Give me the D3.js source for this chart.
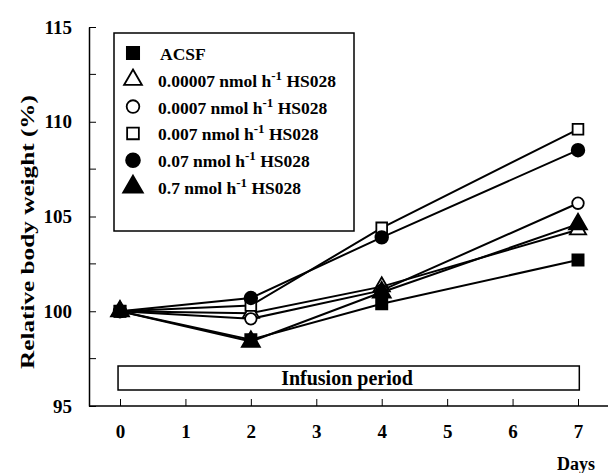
<!DOCTYPE html>
<html>
<head>
<meta charset="utf-8">
<script src="https://cdn.jsdelivr.net/npm/d3@7"></script>
<style>
  body { margin: 0; background: #fff; }
</style>
</head>
<body>
<div id="chart"></div>
<script>
// data
var days = [0, 2, 4, 7];
var acsf      = [100, 98.5, 100.4, 102.7];
var dose00007 = [100, 99.9, 101.3, 104.3];
var dose0007  = [100, 99.6, 101.1, 105.7];
var dose007   = [100, 100.3, 104.4, 109.6];
var dose07    = [100, 100.7, 103.9, 108.5];
var dose7     = [100, 98.4, 101.0, 104.6];

var seriesNames = ["ACSF", "0.00007", "0.0007", "0.007", "0.07", "0.7"];
var xTicks = [0, 1, 2, 3, 4, 5, 6, 7];
var yTicks = [95, 100, 105, 110, 115];
var yMinor = [97.5, 102.5, 107.5, 112.5];

var W = 610, H = 473;
var FONT = "Liberation Serif";

var svg = d3.select("#chart").append("svg")
	.attr("width", W).attr("height", H);

var x = d3.scaleLinear().domain([0, 7]).range([120, 578]);
var y = d3.scaleLinear().domain([95, 115]).range([406, 27]);
var axisX0 = 89, axisX1 = 608;

var shapes = [
	{sym: d3.symbolSquare, size: 125, fill: "#000"},
	{sym: d3.symbolTriangle, size: 115, fill: "#fff"},
	{sym: d3.symbolCircle, size: 105, fill: "#fff"},
	{sym: d3.symbolSquare, size: 115, fill: "#fff"},
	{sym: d3.symbolCircle, size: 125, fill: "#000"},
	{sym: d3.symbolTriangle, size: 140, fill: "#000"}
];
var allSeries = [acsf, dose00007, dose0007, dose007, dose07, dose7];

var series = allSeries.map(function(vals, i){
	return {
		name: seriesNames[i],
		shape: shapes[i],
		points: vals.map(function(v, j){ return {d: days[j], v: v}; })
	};
});

function txt(sel, size){
	return sel.attr("font-family", null)
		.style("font-family", FONT).style("font-weight", "bold")
		.style("font-size", size + "px").style("fill", "#000");
}

// infusion bar
svg.append("rect")
	.attr("x", x(-0.03)).attr("y", 366)
	.attr("width", x(7.02) - x(-0.03)).attr("height", 24)
	.style("fill", "#fff").style("stroke", "#000").style("stroke-width", 1.5);
txt(svg.append("text")
	.attr("x", 347).attr("y", 385)
	.attr("text-anchor", "middle"), 20)
	.text("Infusion period");

// axes
var yAxis = d3.axisLeft(y).tickValues(yTicks).tickSizeInner(-7).tickSizeOuter(0).tickPadding(17);
var gy = svg.append("g").attr("transform", "translate(" + axisX0 + ",0)").call(yAxis);
gy.attr("font-family", null);
txt(gy.selectAll("text"), 19);
gy.selectAll(".domain").style("stroke-width", 1.5);

svg.append("g").selectAll("line").data(yMinor).enter().append("line")
	.attr("x1", axisX0).attr("x2", axisX0 + 7)
	.attr("y1", function(d){ return y(d); }).attr("y2", function(d){ return y(d); })
	.style("stroke", "#000");

var xAxis = d3.axisBottom(x).tickValues(xTicks).tickSizeInner(-7).tickSizeOuter(0).tickPadding(19).tickFormat(d3.format("d"));
var gx = svg.append("g").attr("transform", "translate(0," + y(95) + ")").call(xAxis);
gx.attr("font-family", null);
gx.select(".domain").remove();
txt(gx.selectAll("text"), 19);
svg.append("line")
	.attr("x1", axisX0).attr("x2", axisX1)
	.attr("y1", y(95)).attr("y2", y(95))
	.style("stroke", "#000").style("stroke-width", 1.5);

txt(svg.append("text").attr("x", 576).attr("y", 470)
	.attr("text-anchor", "middle"), 18).text("Days");

txt(svg.append("text")
	.attr("transform", "translate(34,232) rotate(-90)")
	.attr("text-anchor", "middle")
	.attr("textLength", 274).attr("lengthAdjust", "spacingAndGlyphs"), 18)
	.text("Relative body weight (%)");

// lines
var line = d3.line().x(function(d){ return x(d.d); }).y(function(d){ return y(d.v); });
svg.selectAll(".series").data(series).enter().append("path")
	.attr("class", "series")
	.attr("d", function(d){ return line(d.points); })
	.style("fill", "none").style("stroke", "#000").style("stroke-width", 2);

// markers
series.forEach(function(s){
	svg.selectAll(null).data(s.points).enter().append("path")
		.attr("d", d3.symbol().type(s.shape.sym).size(s.shape.size))
		.attr("transform", function(d){ return "translate(" + x(d.d) + "," + y(d.v) + ")"; })
		.style("fill", s.shape.fill).style("stroke", "#000").style("stroke-width", 1.8);
});

// legend
var legend = svg.append("g");
legend.append("rect")
	.attr("x", 114).attr("y", 33).attr("width", 240).attr("height", 198)
	.style("fill", "#fff").style("stroke", "#000").style("stroke-width", 1.5);

var rowY = d3.scalePoint().domain(d3.range(series.length)).range([53, 187]);
var rows = legend.selectAll(".row").data(series).enter().append("g")
	.attr("class", "row")
	.attr("transform", function(d, i){ return "translate(0," + rowY(i) + ")"; });

rows.append("path")
	.attr("d", function(d){ return d3.symbol().type(d.shape.sym).size(d.shape.size * 1.2)(); })
	.attr("transform", "translate(133,0)")
	.style("fill", function(d){ return d.shape.fill; })
	.style("stroke", "#000").style("stroke-width", 1.8);

rows.each(function(d, i){
	var t = txt(d3.select(this).append("text").attr("x", i === 0 ? 160 : 158).attr("y", 7), 17.5);
	if (i === 0) { t.text(d.name); return; }
	t.append("tspan").text(d.name + " nmol h");
	t.append("tspan").attr("dy", -7).style("font-size", "13px").text("-1");
	t.append("tspan").attr("dy", 7).text(" HS028");
});
</script>
</body>
</html>
